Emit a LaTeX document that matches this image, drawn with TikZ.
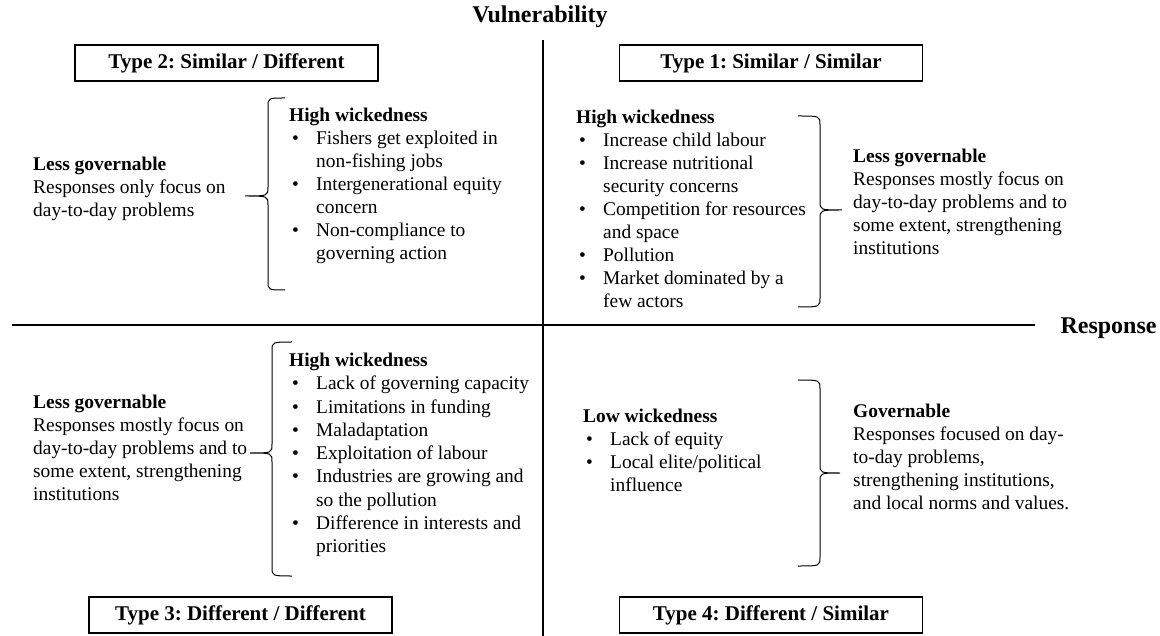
\documentclass[tikz,border=0pt]{standalone}
\usepackage{fontspec}
\setmainfont{Liberation Serif}
\usetikzlibrary{positioning}

% bullet line and continuation line of a list
\newcommand{\bul}{\hspace*{3pt}\makebox[24pt][l]{\textbullet}}
\newcommand{\cont}{\hspace*{27pt}}
% curly brace: spine x, hook x, top y, bottom y, tip x, tip y
\newcommand{\curlybrace}[6]{%
  \draw[bracepen] (#2,#3) .. controls (#1,#3) .. (#1,#3+9)
    -- (#1,#6-9) .. controls (#1,#6) .. (#5,#6)
    .. controls (#1,#6) .. (#1,#6+9)
    -- (#1,#4-9) .. controls (#1,#4) .. (#2,#4);}

\begin{document}
\frenchspacing
\begin{tikzpicture}[
    x=1pt, y=-1pt,
    typebox/.style={draw, line width=1.4pt, minimum width=303pt, minimum height=36pt,
        inner sep=0pt, font=\fontsize{21}{24}\selectfont\bfseries},
    axislabel/.style={font=\fontsize{24}{28}\selectfont\bfseries},
    block/.style={anchor=west, align=left, inner sep=0pt, font=\fontsize{19.4}{23}\selectfont},
    axis/.style={line width=1.5pt},
    bracepen/.style={line width=1pt}
]
    \useasboundingbox (0,0) rectangle (1160,636);

    % Axes
    \coordinate (vtop) at (543,40);
    \coordinate (vbot) at (543,636);
    \coordinate (hleft) at (12,325);
    \coordinate (hright) at (1035,325);
    \draw[axis] (vtop) -- (vbot);
    \draw[axis] (hleft) -- (hright);
    \node[axislabel] (vuln) at (540,17) {Vulnerability};
    \node[axislabel, right=22pt of hright, yshift=-3pt] (resp) {Response};

    % Type boxes
    \node[typebox] (type2) at (226.5,63) {Type 2: Similar / Different};
    \node[typebox] (type1) at (771,63) {Type 1: Similar / Similar};
    \node[typebox] (type3) at (240.5,615) {Type 3: Different / Different};
    \node[typebox] (type4) at (771,615) {Type 4: Different / Similar};

    % Type 2 quadrant
    \node[block] (gov2) at (33,189) {\textbf{Less governable}\\Responses only focus on\\day-to-day problems};
    \node[block] (wick2) at (289,186) {\textbf{High wickedness}\\
        \bul Fishers get exploited in\\\cont non-fishing jobs\\
        \bul Intergenerational equity\\\cont concern\\
        \bul Non-compliance to\\\cont governing action};
    \curlybrace{268}{285}{98}{290}{245}{196}

    % Type 1 quadrant
    \node[block] (wick1) at (576,209) {\textbf{High wickedness}\\
        \bul Increase child labour\\
        \bul Increase nutritional\\\cont security concerns\\
        \bul Competition for resources\\\cont and space\\
        \bul Pollution\\
        \bul Market dominated by a\\\cont few actors};
    \node[block] (gov1) at (853,202) {\textbf{Less governable}\\Responses mostly focus on\\day-to-day problems and to\\some extent, strengthening\\institutions};
    \curlybrace{820}{798}{116}{307}{842}{210}

    % Type 3 quadrant
    \node[block] (gov3) at (33,448) {\textbf{Less governable}\\Responses mostly focus on\\day-to-day problems and to\\some extent, strengthening\\institutions};
    \node[block, font=\fontsize{19.4}{23.25}\selectfont] (wick3) at (289,455) {\textbf{High wickedness}\\
        \bul Lack of governing capacity\\
        \bul Limitations in funding\\
        \bul Maladaptation\\
        \bul Exploitation of labour\\
        \bul Industries are growing and\\\cont so the pollution\\
        \bul Difference in interests and\\\cont priorities};
    \curlybrace{272}{292}{342}{576}{250}{453}

    % Type 4 quadrant
    \node[block] (wick4) at (583,450) {\textbf{Low wickedness}\\
        \bul Lack of equity\\
        \bul Local elite/political\\\cont influence};
    \node[block] (gov4) at (853,457) {\textbf{Governable}\\Responses focused on day-\\to-day problems,\\strengthening institutions,\\and local norms and values.};
    \curlybrace{820}{798}{380}{566}{840}{473}
\end{tikzpicture}
\end{document}
